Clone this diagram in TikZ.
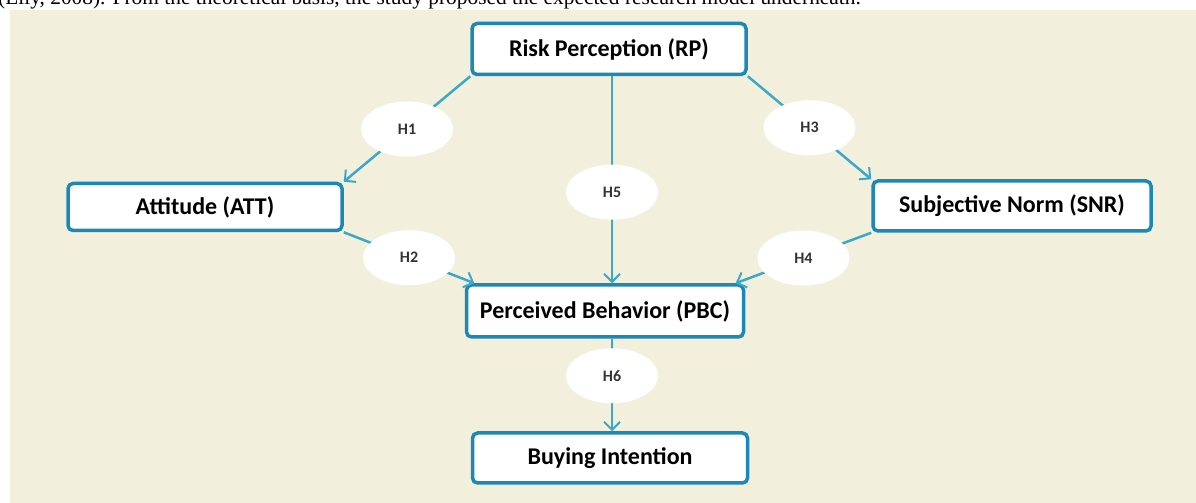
\documentclass[tikz,border=0pt]{standalone}
\usepackage{fontspec}
\setmainfont{Carlito}
\newfontfamily\timesfont{Liberation Serif}
\usetikzlibrary{arrows.meta}
\definecolor{panelbg}{HTML}{F3EFDD}
\definecolor{boxline}{HTML}{1B89B4}
\definecolor{arrowline}{HTML}{3BA8C8}
\tikzset{
	construct/.style={draw=boxline, line width=3.5pt, fill=white, rounded corners=5pt,
		font=\fontsize{24}{28}\selectfont\bfseries, inner sep=0pt},
	hyp/.style={ellipse, fill=white, minimum width=92pt, minimum height=55pt,
		font=\fontsize{16}{18}\selectfont\bfseries, text=black!80},
	link/.style={color=arrowline, line width=2.5pt, -{Straight Barb[length=8pt, width=16pt, line width=2pt]}}
}
\usetikzlibrary{shapes.geometric}
\begin{document}
\begin{tikzpicture}[x=1pt, y=1pt]
	\useasboundingbox (0,0) rectangle (1196,503);
	\clip (0,0) rectangle (1196,503);
	\fill[panelbg] (10,0) rectangle (1196,493);
	\node[anchor=base west, inner sep=0pt, font=\timesfont\fontsize{21.4}{24}\selectfont] (intro) at (-2,498)
		{(Lily, 2008). From the theoretical basis, the study proposed the expected research model underneath.};
	
	\node[construct, minimum width=274pt, minimum height=51pt] (RP) at (609,454) {Risk Perception (RP)};
	\node[construct, minimum width=274pt, minimum height=47pt] (ATT) at (205,296) {Attitude (ATT)};
	\node[construct, minimum width=278pt, minimum height=50pt] (SNR) at (1012,297) {Subjective Norm (SNR)};
	\node[construct, minimum width=277pt, minimum height=52pt] (PBC) at (605,192) {Perceived Behavior (PBC)};
	\node[construct, minimum width=275pt, minimum height=50pt] (BI) at (610,45) {Buying Intention};
	
	\path [link] (RP.south west) edge node[hyp] {H1} (ATT.north east);
	\path [link] (RP.south east) edge node[hyp] {H3} (SNR.north west);
	\path [link] (RP.south -| 612,0) edge node[hyp, pos=0.56] {H5} (PBC.north -| 612,0);
	\path [link] (ATT.south east) edge node[hyp] {H2} (PBC.168);
	\path [link] (SNR.south west) edge node[hyp] {H4} (PBC.12);
	\path [link] (PBC.south -| 612,0) edge node[hyp, pos=0.4] {H6} (BI.north -| 612,0);
\end{tikzpicture}
\end{document}
